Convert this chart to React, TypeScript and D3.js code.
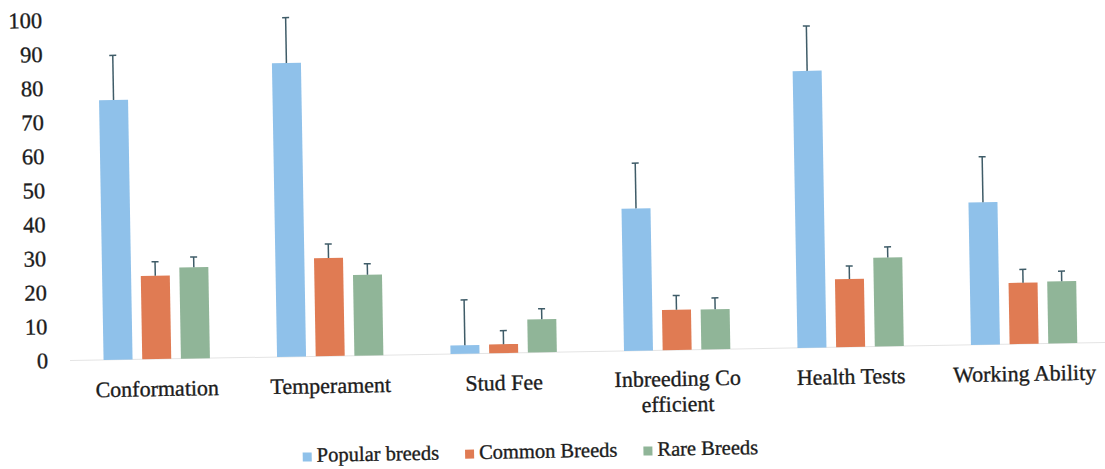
import React from 'react';
import * as d3 from 'd3';

const categories = ['Conformation', 'Temperament', 'Stud Fee', 'Inbreeding Co efficient', 'Health Tests', 'Working Ability'];
const categoryLines = [['Conformation'], ['Temperament'], ['Stud Fee'], ['Inbreeding Co', 'efficient'], ['Health Tests'], ['Working Ability']];
const seriesNames = ['Popular breeds', 'Common Breeds', 'Rare Breeds'];
const popular = [76.3, 86.3, 2.5, 41.8, 81.3, 41.8];
const common = [24.5, 28.8, 2.6, 11.8, 20, 18];
const rare = [26.8, 23.7, 9.7, 11.8, 26.1, 18.2];
const popularErr = [13.1, 13.3, 13.3, 13.3, 13.2, 13.4];
const commonErr = [4.1, 4.1, 4, 4.2, 3.8, 3.9];
const rareErr = [3, 3.2, 3.1, 3.3, 3.1, 3];
const yTicks = [0, 10, 20, 30, 40, 50, 60, 70, 80, 90, 100];

const colors = ['#8fc1ea', '#e07b53', '#90b598'];
const errColor = '#3f5c68';
const textColor = '#1c1c1c';
const font = 'Liberation Serif, DejaVu Serif, serif';

export default function App() {
  const W = 1105, H = 469;
  const values = [popular, common, rare];
  const errs = [popularErr, commonErr, rareErr];

  const x0 = d3.scaleBand<string>().domain(categories).range([70, 1111]).paddingInner(0.387).paddingOuter(0.1935);
  const x1 = d3.scaleBand<string>().domain(seriesNames).range([0, x0.bandwidth()]).paddingInner(0.25);
  const y = d3.scaleLinear().domain([0, 100]).range([360, 19.5]);

  const canvas = typeof document !== 'undefined' ? document.createElement('canvas') : null;
  const ctx = canvas ? canvas.getContext('2d') : null;
  if (ctx) ctx.font = `20.5px ${font}`;
  let lx = 301;
  const legendItems = seriesNames.map((name, i) => {
    const w = ctx ? ctx.measureText(name).width : name.length * 9;
    const item = { name, x: lx, color: colors[i] };
    lx += 9 + 5 + w + 26;
    return item;
  });

  const ts = { fontFamily: font, fill: textColor, stroke: textColor, strokeWidth: 0.35 } as React.CSSProperties;

  return (
    <svg width={W} height={H} style={{ position: 'absolute', left: 0, top: 0, background: '#fff' }}>
      <rect x={0} y={0} width={W} height={H} fill="#fff" />
      <g transform="rotate(-1, 105, 360)">
        {yTicks.map((t) => (
          <text key={t} x={48} y={y(t)} dy="0.33em" textAnchor="end" style={{ ...ts, fontSize: 22.5 }}>
            {t}
          </text>
        ))}
        <line x1={70} x2={1111} y1={y(0)} y2={y(0)} stroke="#e4e4e4" strokeWidth={1} />
        {categories.map((c, ci) => (
          <g key={c} transform={`translate(${x0(c)},0)`}>
            {seriesNames.map((s, si) => {
              const v = values[si][ci];
              const e = errs[si][ci];
              const bx = x1(s)!;
              const bw = x1.bandwidth();
              const cx = bx + bw / 2;
              return (
                <g key={s}>
                  <rect x={bx} y={y(v)} width={bw} height={y(0) - y(v)} fill={colors[si]} />
                  <line x1={cx} x2={cx} y1={y(v)} y2={y(v + e)} stroke={errColor} strokeWidth={1.5} />
                  <line x1={cx - 3.5} x2={cx + 3.5} y1={y(v + e)} y2={y(v + e)} stroke={errColor} strokeWidth={1.5} />
                </g>
              );
            })}
            {categoryLines[ci].map((ln, li) => (
              <text key={li} x={x0.bandwidth() / 2} y={(categoryLines[ci].length > 1 ? 396 : 397) + li * 25.5} textAnchor="middle" style={{ ...ts, fontSize: 22 }}>
                {ln}
              </text>
            ))}
          </g>
        ))}
        {legendItems.map((it) => (
          <g key={it.name}>
            <rect x={it.x} y={456} width={9} height={9} fill={it.color} />
            <text x={it.x + 14} y={465.5} style={{ ...ts, fontSize: 20.5 }}>
              {it.name}
            </text>
          </g>
        ))}
      </g>
    </svg>
  );
}
